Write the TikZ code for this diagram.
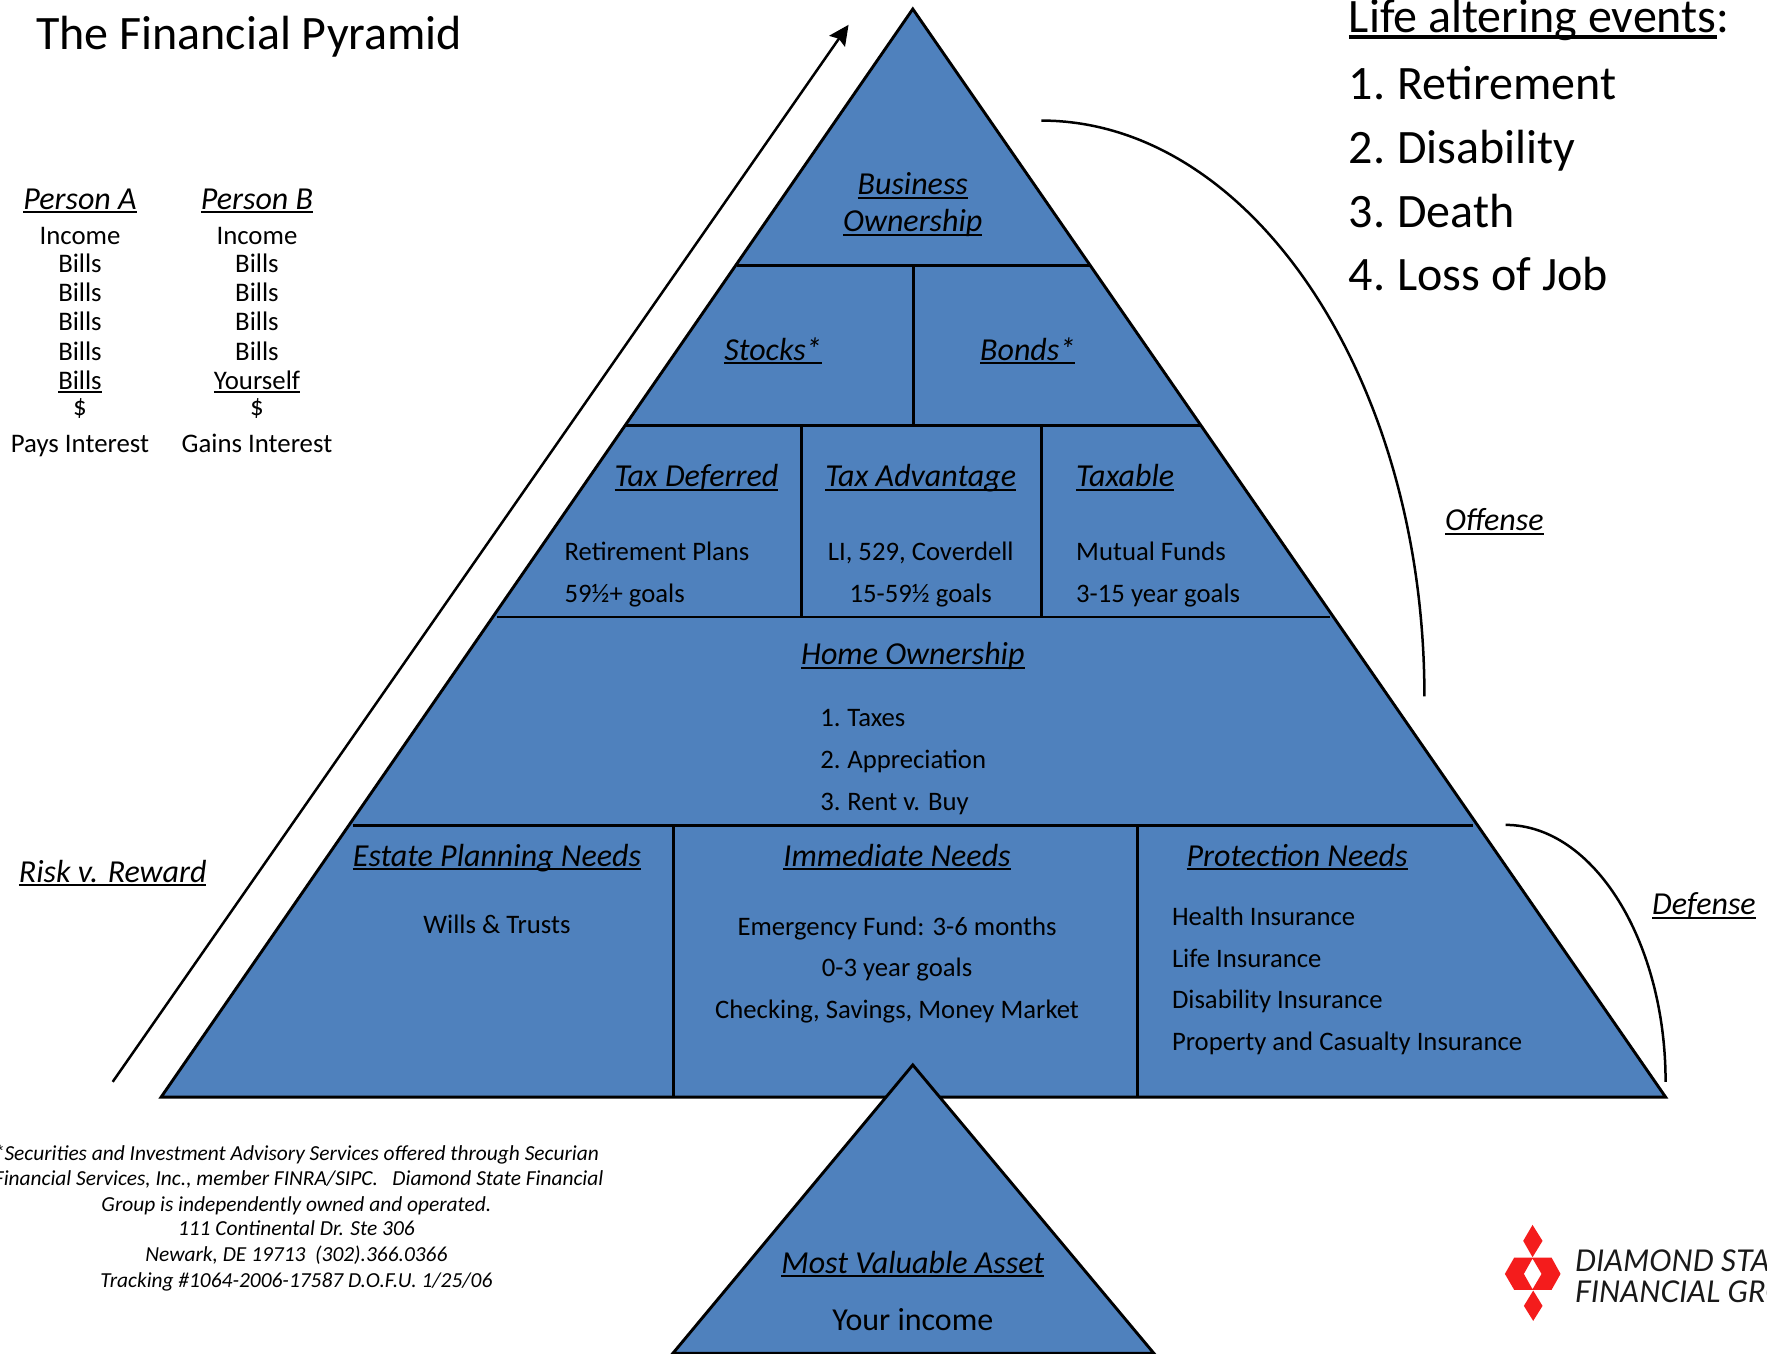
\documentclass[tikz,border=0pt]{standalone}
\usepackage{fontspec}
\setmainfont{Carlito}
\newfontfamily\logofont{Lato}
\usetikzlibrary{arrows.meta}
\definecolor{pyrblue}{HTML}{4F81BD}
\definecolor{logored}{HTML}{F41C1C}
\newcommand\ulx[1]{\leavevmode\setbox0\hbox{#1}\rlap{\rule[-0.13em]{\wd0}{0.065em}}\box0}
\newcommand\ulit[1]{\ulx{\itshape #1}}
\tikzset{
  txt/.style={inner sep=0pt,outer sep=0pt,anchor=base,text=black,yshift=-0.4pt},
  lefttxt/.style={txt,anchor=base west},
  body/.style={font=\fontsize{13.35}{15}\selectfont},
  head/.style={font=\fontsize{16}{19}\selectfont},
  side/.style={font=\fontsize{13.4}{15}\selectfont},
  person/.style={font=\fontsize{16}{19}\selectfont},
  big/.style={font=\fontsize{24}{28}\selectfont},
  foot/.style={font=\fontsize{10.7}{13}\selectfont\itshape},
  pyr/.style={fill=pyrblue,draw=black,line width=1.45pt,line join=miter},
  divider/.style={draw=black,line width=1.45pt},
  curveline/.style={draw=black,line width=1.25pt},
  logotxt/.style={txt,anchor=base west,font=\fontsize{15}{17}\selectfont\logofont\itshape,text=black!90},
}
\begin{document}
\begin{tikzpicture}[x=0.5635pt,y=-0.5635pt]
\useasboundingbox (0,0) rectangle (1568,1201.5);
\clip (0,0) rectangle (1568,1201.5);
% pyramid
\coordinate (apex) at (810,8);
\coordinate (bl) at (143,973.5);
\coordinate (br) at (1478,973.5);
\coordinate (l1) at (654,235.5); \coordinate (r1) at (967,235.5);
\coordinate (l2) at (555,377.5); \coordinate (r2) at (1066,377.5);
\coordinate (l3) at (441,547.5); \coordinate (r3) at (1180,547.5);
\coordinate (l4) at (313,732.5); \coordinate (r4) at (1307,732.5);
\draw[pyr] (apex) -- (br) -- (bl) -- cycle;
\draw[divider] (l1) -- (r1);
\draw[divider] (l2) -- (r2);
\draw[divider] (l3) -- (r3);
\draw[divider] (l4) -- (r4);
\coordinate (v1t) at (810.5,235.5); \coordinate (v1b) at (810.5,377.5);
\coordinate (v2t) at (711.5,377.5); \coordinate (v2b) at (711.5,547.5);
\coordinate (v3t) at (924.5,377.5); \coordinate (v3b) at (924.5,547.5);
\coordinate (v4t) at (597.5,732.5); \coordinate (v4b) at (597.5,973.5);
\coordinate (v5t) at (1009.5,732.5); \coordinate (v5b) at (1009.5,973.5);
\draw[divider] (v1t) -- (v1b);
\draw[divider] (v2t) -- (v2b);
\draw[divider] (v3t) -- (v3b);
\draw[divider] (v4t) -- (v4b);
\draw[divider] (v5t) -- (v5b);
% lower triangle
\coordinate (mapex) at (810,945);
\coordinate (mbl) at (597,1201);
\coordinate (mbr) at (1024,1201);
\draw[pyr] (mapex) -- (mbr) -- (mbl) -- cycle;
% arrow and arcs
\coordinate (arrs) at (100,960);
\coordinate (arre) at (753,22);
\draw[curveline,-{Stealth[length=10pt,width=9.5pt,inset=1.5pt]}] (arrs) -- (arre);
\coordinate (ofs) at (924,107);
\coordinate (ofe) at (1264,618);
\draw[curveline] (ofs) .. controls (1111,107) and (1264,337) .. (ofe);
\coordinate (dfs) at (1336,732);
\coordinate (dfe) at (1478,960);
\draw[curveline] (dfs) .. controls (1414,732) and (1478,835) .. (dfe);
% title
\node[lefttxt,big] (title) at (32,43) {The Financial Pyramid};
\node[lefttxt,big] (life0) at (1197,28) {\ulx{Life altering events}:};
\node[lefttxt,big] (life1) at (1197,88) {1.\kern-0.05em{} Retirement};
\node[lefttxt,big] (life2) at (1197,144) {2.\kern-0.05em{} Disability};
\node[lefttxt,big] (life3) at (1197,201) {3.\kern-0.05em{} Death};
\node[lefttxt,big] (life4) at (1197,257) {4.\kern-0.05em{} Loss of Job};
% persons
\node[txt,person] (pa0) at (71,185) {\ulit{Person A}};
\node[txt,side] (pa1) at (71,216) {Income};
\node[txt,side] (pa2) at (71,241) {Bills};
\node[txt,side] (pa3) at (71,267) {Bills};
\node[txt,side] (pa4) at (71,293) {Bills};
\node[txt,side] (pa5) at (71,319) {Bills};
\node[txt,side] (pa6) at (71,345) {\ulx{Bills}};
\node[txt,side] (pa7) at (71,368) {\$};
\node[txt,side] (pa8) at (71,401) {Pays Interest};
\node[txt,person] (pb0) at (228,185) {\ulit{Person B}};
\node[txt,side] (pb1) at (228,216) {Income};
\node[txt,side] (pb2) at (228,241) {Bills};
\node[txt,side] (pb3) at (228,267) {Bills};
\node[txt,side] (pb4) at (228,293) {Bills};
\node[txt,side] (pb5) at (228,319) {Bills};
\node[txt,side] (pb6) at (228,345) {\ulx{Yourself}};
\node[txt,side] (pb7) at (228,368) {\$};
\node[txt,side] (pb8) at (228,401) {Gains Interest};
% pyramid text
\node[txt,head] (biz1) at (810,172) {\ulit{Business}};
\node[txt,head] (biz2) at (810,205) {\ulit{Ownership}};
\node[txt,head] (stocks) at (686,319) {\ulit{Stocks*}};
\node[txt,head] (bonds) at (912,319) {\ulit{Bonds*}};
\node[txt,head] (taxd) at (618,431) {\ulit{Tax Deferred}};
\node[txt,head] (taxa) at (817,431) {\ulit{Tax Advantage}};
\node[lefttxt,head] (taxb) at (955,431) {\ulit{Taxable}};
\node[lefttxt,body] (ret1) at (501,496.5) {Retirement Plans};
\node[lefttxt,body] (ret2) at (501,533.5) {59½+ goals};
\node[txt,body] (adv1) at (817,496.5) {LI, 529, Coverdell};
\node[txt,body] (adv2) at (817,533.5) {15-59½ goals};
\node[lefttxt,body] (tb1) at (955,496.5) {Mutual Funds};
\node[lefttxt,body] (tb2) at (955,533.5) {3-15 year goals};
\node[txt,head] (home) at (810,589) {\ulit{Home Ownership}};
\node[lefttxt,body] (hm1) at (728,644) {1.\kern-0.05em{} Taxes};
\node[lefttxt,body] (hm2) at (728,681.5) {2.\kern-0.05em{} Appreciation};
\node[lefttxt,body] (hm3) at (728,718.5) {3.\kern-0.05em{} Rent v. Buy};
\node[txt,head] (est) at (441,768) {\ulit{Estate Planning Needs}};
\node[txt,body] (est1) at (441,827.5) {Wills \& Trusts};
\node[txt,head] (imm) at (796,768) {\ulit{Immediate Needs}};
\node[txt,body] (imm1) at (796,829.5) {Emergency Fund: 3-6 months};
\node[txt,body] (imm2) at (796,866) {0-3 year goals};
\node[txt,body] (imm3) at (796,903.5) {Checking, Savings, Money Market};
\node[txt,head] (pro) at (1151,768) {\ulit{Protection Needs}};
\node[lefttxt,body] (pro1) at (1040,820.5) {Health Insurance};
\node[lefttxt,body] (pro2) at (1040,857.5) {Life Insurance};
\node[lefttxt,body] (pro3) at (1040,894.5) {Disability Insurance};
\node[lefttxt,body] (pro4) at (1040,931.5) {Property and Casualty Insurance};
\node[txt,head] (mva) at (810,1129) {\ulit{Most Valuable Asset}};
\node[txt,head] (inc) at (810,1180) {Your income};
% side labels
\node[txt,head] (off) at (1326,470) {\ulit{Offense}};
\node[txt,head] (def) at (1512,811) {\ulit{Defense}};
\node[txt,head] (risk) at (100,782) {\ulit{Risk v. Reward}};
% footnote
\node[txt,foot] (f1) at (263,1029) {*Securities and Investment Advisory Services offered through Securian};
\node[txt,foot] (f2) at (265,1051) {Financial Services, Inc., member FINRA/SIPC.\ \ \ Diamond State Financial};
\node[txt,foot] (f3) at (263,1074) {Group is independently owned and operated.};
\node[txt,foot] (f4) at (263,1096) {111 Continental Dr. Ste 306};
\node[txt,foot] (f5) at (263,1119) {Newark, DE 19713\ \ (302).366.0366};
\node[txt,foot] (f6) at (263,1142) {Tracking \#1064-2006-17587 D.O.F.U. 1/25/06};
% logo
\begin{scope}[shift={(725pt,-590pt)},x=0.16667pt,y=-0.16667pt]
\fill[logored] (248,135) -- (278,183) -- (248,232) -- (220,183) -- cycle;
\fill[logored] (250,332) -- (278,378) -- (250,423) -- (222,378) -- cycle;
\fill[logored,even odd rule] (193,233) -- (305,233) -- (332,282) -- (305,330) -- (193,330) -- (165,282) -- cycle
  (248,236) -- (275,282) -- (248,328) -- (222,282) -- cycle;
\node[logotxt] (logo1) at (376,272) {DIAMOND STATE};
\node[logotxt] (logo2) at (376,366) {FINANCIAL GROUP};
\end{scope}
\end{tikzpicture}
\end{document}
